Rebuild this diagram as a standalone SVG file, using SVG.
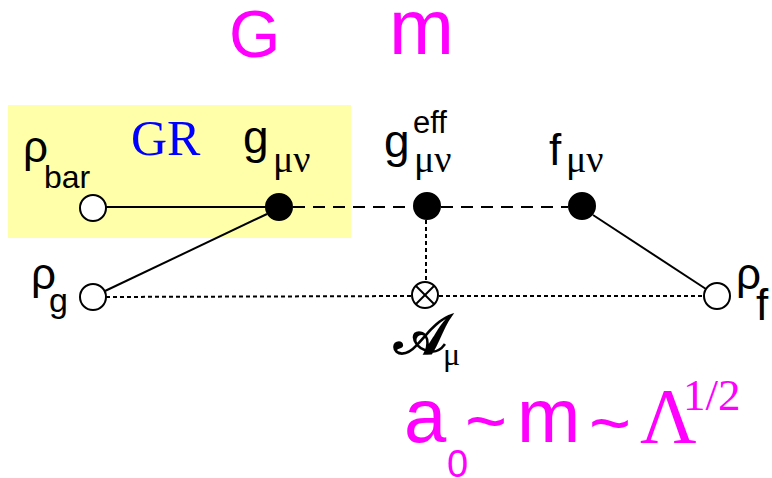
<svg xmlns="http://www.w3.org/2000/svg" width="772" height="478" viewBox="0 0 772 478">
<style>
.sans{font-family:"Liberation Sans",Arial,sans-serif;fill:#000}
.ser{font-family:"Liberation Serif","Times New Roman",serif;fill:#000}
.mag{fill:#ff00ff}
.solid{stroke:#000;stroke-width:2;fill:none}
.dash{stroke:#000;stroke-width:2;fill:none;stroke-dasharray:12 8}
.dot{stroke:#000;stroke-width:2;fill:none;stroke-dasharray:4 3}
.open{fill:#fff;stroke:#000;stroke-width:2}
.full{fill:#000;stroke:#000;stroke-width:2}
</style>
<rect x="8" y="105" width="343" height="133" fill="#ffffaa"/>
<text class="sans mag" x="229" y="57" font-size="66">G</text>
<text class="sans mag" x="389" y="54" font-size="78">m</text>
<text class="ser" x="131" y="155" font-size="50" style="fill:#0000ff">GR</text>
<g id="connectors">
<line class="solid" x1="106" y1="207" x2="266" y2="207"/>
<line class="solid" x1="105" y1="291" x2="267" y2="214"/>
<line class="dash" x1="293" y1="207" x2="413" y2="207"/>
<line class="dash" x1="441" y1="207" x2="568" y2="207"/>
<line class="dot" x1="426" y1="220" x2="426" y2="282"/>
<line class="dot" x1="106" y1="297" x2="411" y2="296"/>
<line class="dot" x1="439" y1="296" x2="704" y2="296"/>
<line class="solid" x1="593" y1="215" x2="706" y2="289"/>
</g>
<g id="rho_bar">
<circle class="open" cx="93" cy="208" r="13"/>
<text class="sans" x="23" y="162" font-size="44">ρ</text>
<text class="sans" x="44" y="188" font-size="32">bar</text>
</g>
<g id="g_mn">
<circle class="full" cx="279" cy="207" r="13"/>
<text class="sans" x="243" y="153" font-size="46">g</text>
<text class="ser" x="273" y="172" font-size="38">μν</text>
</g>
<g id="g_eff">
<circle class="full" cx="427" cy="206" r="13"/>
<text class="sans" x="384" y="157" font-size="46">g</text>
<text class="sans" x="413" y="133" font-size="31">eff</text>
<text class="ser" x="414" y="172" font-size="38">μν</text>
</g>
<g id="f_mn">
<circle class="full" cx="582" cy="206" r="13"/>
<text class="sans" x="549" y="165" font-size="44">f</text>
<text class="ser" x="566" y="172" font-size="38">μν</text>
</g>
<g id="rho_g">
<circle class="open" cx="93" cy="297" r="13"/>
<text class="sans" x="31" y="289" font-size="44">ρ</text>
<text class="sans" x="49" y="312" font-size="34">g</text>
</g>
<g id="A_mu">
<circle class="open" cx="425" cy="295" r="13"/>
<line class="solid" x1="416" y1="286" x2="434" y2="304"/>
<line class="solid" x1="434" y1="286" x2="416" y2="304"/>
<text class="ser" x="394" y="354" font-size="56" font-weight="bold">𝒜</text>
<text class="ser" x="443" y="365" font-size="32">μ</text>
</g>
<g id="rho_f">
<circle class="open" cx="717" cy="296" r="13"/>
<text class="sans" x="736" y="289" font-size="44">ρ</text>
<text class="sans" x="756" y="320" font-size="44">f</text>
</g>
<g id="formula" class="mag">
<text class="sans mag" x="404" y="442" font-size="76">a</text>
<text class="sans mag" x="447" y="477" font-size="38">0</text>
<text class="sans mag" x="465" y="446" font-size="72">~</text>
<text class="sans mag" x="517" y="442" font-size="76">m</text>
<text class="sans mag" x="589" y="448" font-size="72">~</text>
<text class="ser mag" x="640" y="442" font-size="78">Λ</text>
<text class="ser mag" x="683" y="410" font-size="45">1/2</text>
</g>
</svg>
